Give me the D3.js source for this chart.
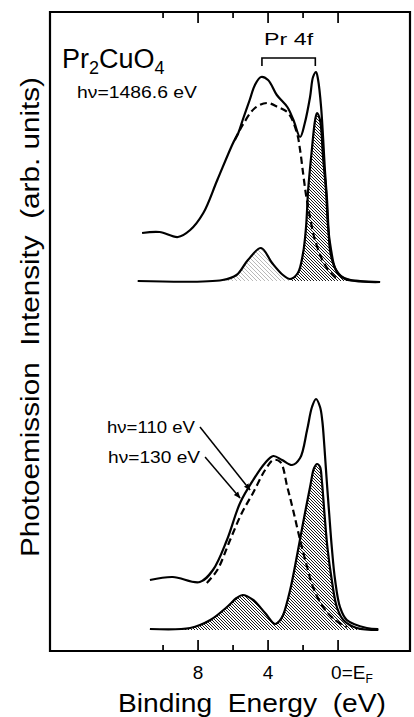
<!DOCTYPE html>
<html>
<head>
<meta charset="utf-8">
<script src="https://cdn.jsdelivr.net/npm/d3@7"></script>
<style>
body { margin: 0; background: #fff; }
svg { display: block; }
text { font-family: "Liberation Sans", Arial, sans-serif; fill: #000; }
</style>
</head>
<body>
<script>
// binding energy (eV), intensity (arb. units)
var xpsTotal = [[11.2,41.8],[10.2,41.9],[9.15,41.4],[8.45,42.1],[7.7,43.8],[6.9,47.1],[6.0,50.8],[5.7,51.8],[5.45,53.1],[5.05,55.1],[4.75,56.6],[4.4,57.4],[4.0,57.1],[3.5,55.6],[2.9,54.4],[2.55,53.1],[2.17,51.4],[1.9,52.8],[1.6,55.4],[1.43,57.4],[1.26,57.9],[1.14,57.1],[0.97,54.4],[0.74,47.8],[0.63,45.1],[0.46,40.1],[0.29,38.8],[0.06,37.9],[-0.4,37.2],[-1.26,37.0],[-2.4,36.9]];
var xpsDashed = [[5.9,51.1],[5.45,52.6],[4.75,54.3],[4.05,54.8],[3.45,54.4],[2.85,53.8],[2.35,51.8],[2.17,50.1],[2.0,47.8],[1.83,45.6],[1.65,43.8],[1.45,42.0],[1.3,41.0],[0.9,39.1],[0.46,37.9],[0.0,37.1]];
var xpsPr4f = [[11.45,37.0],[6.6,37.1],[5.8,37.6],[5.15,39.1],[4.4,40.3],[3.77,38.8],[3.15,37.6],[2.74,37.2],[2.3,37.8],[2.0,39.8],[1.83,42.4],[1.71,46.1],[1.5,50.1],[1.31,53.1],[1.2,53.8],[1.03,53.1],[0.86,49.4],[0.69,46.1],[0.57,42.4],[0.4,40.1],[0.17,38.3],[-0.23,37.4],[-0.97,37.0],[-2.4,36.9]];
var xpsBase = 37.0;

var resTotal = [[10.75,7.1],[9.45,7.4],[7.9,6.9],[7.15,8.1],[6.35,11.1],[5.6,14.8],[4.85,17.1],[4.17,18.8],[3.7,19.5],[3.2,19.1],[2.63,18.6],[2.17,19.3],[1.77,22.1],[1.49,24.4],[1.26,25.2],[1.03,24.4],[0.9,23.0],[0.78,20.4],[0.65,17.1],[0.51,13.8],[0.36,10.4],[0.17,7.1],[-0.11,4.4],[-0.5,3.1],[-1.64,2.3],[-2.3,2.2]];
var resDashed = [[7.5,6.8],[6.9,8.1],[6.17,11.1],[5.5,13.8],[4.86,15.8],[4.17,18.1],[3.7,19.1],[3.3,18.9],[2.9,16.4],[2.57,14.1],[2.17,11.1],[1.77,8.4],[1.43,6.4],[0.86,4.4],[0.17,3.1],[-0.5,2.4]];
var resPr4f = [[10.75,2.2],[8.45,2.3],[7.3,3.1],[6.35,4.4],[5.8,5.3],[5.45,5.6],[4.85,5.1],[4.17,3.8],[3.6,2.7],[3.35,3.0],[3.14,3.6],[2.74,6.1],[2.34,9.6],[2.0,12.8],[1.6,16.4],[1.37,18.3],[1.2,18.7],[1.03,18.4],[0.93,17.1],[0.78,13.8],[0.61,10.4],[0.36,7.1],[0.07,4.4],[-0.3,3.1],[-1.07,2.3],[-2.3,2.1]];
var resBase = 2.1;

var majorTicks = [8, 4, 0];
var minorTicks = [10, 6, 2];
var tickLabels = ["8", "4", "0=E"];

var photonLabels = ["h\u03bd=110 eV", "h\u03bd=130 eV"];
var arrowStart = [[7.89, 22.4], [7.6, 19.4]];
var arrowEnd = [[5.03, 16.1], [5.6, 15.3]];

var pr4fBracket = [4.35, 1.3];

var W = 414, H = 717;
var plotBox = {left: 50, right: 410, top: 12, bottom: 651};

var svg = d3.select("body").append("svg")
  .attr("width", W)
  .attr("height", H);

var x = d3.scaleLinear().domain([16.46, -4.11]).range([plotBox.left, plotBox.right]);
var y = d3.scaleLinear().domain([0, 64]).range([plotBox.bottom, plotBox.top - 1]);

// frame and ticks
var box = d3.path();
box.rect(plotBox.left, plotBox.top, plotBox.right - plotBox.left, plotBox.bottom - plotBox.top);
svg.append("path")
  .attr("d", box.toString())
  .attr("fill", "none").attr("stroke", "#000").attr("stroke-width", 2.2);

function tickPath(vals, size) {
  var p = d3.path();
  vals.forEach(function(v) {
    p.moveTo(x(v), plotBox.bottom); p.lineTo(x(v), plotBox.bottom - size);
    p.moveTo(x(v), plotBox.top); p.lineTo(x(v), plotBox.top + size);
  });
  svg.append("path").attr("d", p.toString())
    .attr("fill", "none").attr("stroke", "#000").attr("stroke-width", 1.7);
}
tickPath(majorTicks, 11);
tickPath(minorTicks, 6);

// hatch tiles without pattern transforms
var defs = svg.append("defs");
function hatch(id, s, color, w) {
  defs.append("pattern").attr("id", id)
    .attr("patternUnits", "userSpaceOnUse")
    .attr("width", s).attr("height", s)
    .append("path")
    .attr("d", "M0,0L" + s + "," + s + "M" + (-s / 2) + "," + (s / 2) + "L" + (s / 2) + "," + (s * 1.5) +
               "M" + (s / 2) + "," + (-s / 2) + "L" + (s * 1.5) + "," + (s / 2))
    .attr("stroke", color).attr("stroke-width", w);
}
hatch("hatch", 3, "#000", 0.9);
hatch("hatchLight", 4, "#999", 0.7);

defs.append("marker").attr("id", "arrow")
  .attr("viewBox", "0 0 10 10")
  .attr("refX", 9).attr("refY", 5)
  .attr("markerWidth", 7).attr("markerHeight", 7)
  .attr("markerUnits", "userSpaceOnUse")
  .attr("orient", "auto")
  .append("path").attr("d", "M0,1 L10,5 L0,9 z").attr("fill", "#000");

var line = d3.line()
  .x(function(d) { return x(d[0]); })
  .y(function(d) { return y(d[1]); })
  .curve(d3.curveCatmullRom.alpha(0.5));

function area(base) {
  return d3.area()
    .x(function(d) { return x(d[0]); })
    .y0(y(base))
    .y1(function(d) { return y(d[1]); })
    .curve(d3.curveCatmullRom.alpha(0.5));
}

// hatched Pr 4f contributions
var split = 2.74;
svg.append("path").datum(xpsPr4f.filter(function(d) { return d[0] >= split; }))
  .attr("d", area(xpsBase)).attr("fill", "url(#hatchLight)");
svg.append("path").datum(xpsPr4f.filter(function(d) { return d[0] <= split; }))
  .attr("d", area(xpsBase)).attr("fill", "url(#hatch)");
svg.append("path").datum(resPr4f)
  .attr("d", area(resBase)).attr("fill", "url(#hatch)");

// curves
[xpsTotal, xpsPr4f, resTotal, resPr4f].forEach(function(s) {
  svg.append("path").datum(s).attr("d", line)
    .attr("fill", "none").attr("stroke", "#000")
    .attr("stroke-width", 2.2).attr("stroke-linejoin", "round");
});
[xpsDashed, resDashed].forEach(function(s) {
  svg.append("path").datum(s).attr("d", line)
    .attr("fill", "none").attr("stroke", "#000")
    .attr("stroke-width", 2.2).attr("stroke-dasharray", "7,4");
});

// tick labels
majorTicks.forEach(function(v, i) {
  var t = svg.append("text")
    .attr("y", 679)
    .attr("font-size", 19);
  if (v === 0) {
    t.attr("x", x(v) - 7).attr("text-anchor", "start");
    t.append("tspan").text(tickLabels[i]);
    t.append("tspan").attr("font-size", 12).attr("dy", 4).text("F");
  } else {
    t.attr("x", x(v)).attr("text-anchor", "middle").text(tickLabels[i]);
  }
});

// axis titles
svg.append("text")
  .attr("x", 252).attr("y", 712)
  .attr("text-anchor", "middle")
  .attr("font-size", 25)
  .attr("textLength", 268).attr("lengthAdjust", "spacingAndGlyphs")
  .attr("xml:space", "preserve")
  .text("Binding  Energy  (eV)");

svg.append("text")
  .attr("transform", "translate(39,317) rotate(-90)")
  .attr("text-anchor", "middle")
  .attr("font-size", 26)
  .attr("textLength", 480).attr("lengthAdjust", "spacingAndGlyphs")
  .attr("xml:space", "preserve")
  .text("Photoemission  Intensity  (arb. units)");

// compound label
var title = svg.append("text").attr("x", 62).attr("y", 68).attr("font-size", 27);
title.append("tspan").text("Pr");
title.append("tspan").attr("font-size", 18).attr("dy", 6).text("2");
title.append("tspan").attr("dy", -6).text("CuO");
title.append("tspan").attr("font-size", 18).attr("dy", 6).text("4");

svg.append("text")
  .attr("x", 77).attr("y", 98)
  .attr("font-size", 17)
  .attr("textLength", 120).attr("lengthAdjust", "spacingAndGlyphs")
  .text("h\u03bd=1486.6 eV");

// Pr 4f bracket
var by = y(59.3), bt = y(58.5);
svg.append("path")
  .attr("d", "M" + x(pr4fBracket[0]) + "," + bt + "V" + by + "H" + x(pr4fBracket[1]) + "V" + bt)
  .attr("fill", "none").attr("stroke", "#000").attr("stroke-width", 1.6);
svg.append("text")
  .attr("x", (x(pr4fBracket[0]) + x(pr4fBracket[1])) / 2).attr("y", 45)
  .attr("text-anchor", "middle")
  .attr("font-size", 17)
  .attr("textLength", 49).attr("lengthAdjust", "spacingAndGlyphs")
  .text("Pr 4f");

// photon energy labels with arrows
photonLabels.forEach(function(lab, i) {
  var s = arrowStart[i], e = arrowEnd[i];
  svg.append("line")
    .attr("x1", x(s[0])).attr("y1", y(s[1]))
    .attr("x2", x(e[0])).attr("y2", y(e[1]))
    .attr("stroke", "#000").attr("stroke-width", 1.5)
    .attr("marker-end", "url(#arrow)");
  svg.append("text")
    .attr("x", x(s[0]) - 5).attr("y", y(s[1]) + 6)
    .attr("text-anchor", "end")
    .attr("font-size", 17)
    .attr("textLength", i === 0 ? 88 : 92).attr("lengthAdjust", "spacingAndGlyphs")
    .text(lab);
});
</script>
</body>
</html>
